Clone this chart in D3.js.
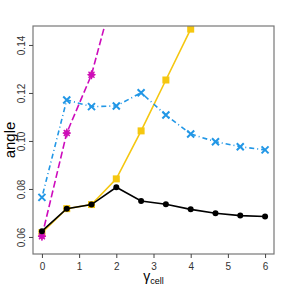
<!DOCTYPE html>
<html><head><meta charset="utf-8">
<script src="https://cdn.jsdelivr.net/npm/d3@7"></script>
<style>body{margin:0;background:#fff}svg{display:block}</style>
</head><body>
<svg id="c" width="288" height="288"></svg>
<script>
const xs = [0, 0.667, 1.333, 2, 2.667, 3.333, 4, 4.667, 5.333, 6];
const blackVals = [0.0624, 0.0718, 0.0735, 0.0807, 0.0750, 0.0736, 0.0715, 0.0699, 0.0689, 0.0685];
const yellowVals = [0.0618, 0.0718, 0.0735, 0.0842, 0.1042, 0.1254, 0.1466, 0.168, 0.19, 0.21];
const pinkVals = [0.0603, 0.1033, 0.1276, 0.166, 0.20, 0.23, 0.26, 0.29, 0.32, 0.35];
const blueVals = [0.0765, 0.1171, 0.1143, 0.1146, 0.1201, 0.1108, 0.1029, 0.0997, 0.0976, 0.0963];
const xTicks = [0, 1, 2, 3, 4, 5, 6];
const yTicks = [0.06, 0.08, 0.10, 0.12, 0.14];

const L = 33, R = 274, T = 26, B = 254;
const FONT = "Liberation Sans, Arial, sans-serif";
const svg = d3.select("#c");
const x = d3.scaleLinear().domain([-0.24, 6.24]).range([L, R]);
const y = d3.scaleLinear().domain([0.0529, 0.1479]).range([B, T]);

svg.append("defs").append("clipPath").attr("id", "clip")
  .append("rect").attr("x", L).attr("y", T).attr("width", R - L).attr("height", B - T);
const g = svg.append("g").attr("clip-path", "url(#clip)");

const line = d3.line().x(d => x(d[0])).y(d => y(d[1]));
function series(vals, color, dash) {
  const pts = xs.map((v, i) => [v, vals[i]]);
  g.append("path").datum(pts).attr("d", line).attr("fill", "none")
    .attr("stroke", color).attr("stroke-width", 1.6).attr("stroke-dasharray", dash || null);
  return pts;
}

// yellow
const yp = series(yellowVals, "#F5C710");
g.selectAll(".ys").data(yp).enter().append("rect")
  .attr("x", d => x(d[0]) - 3.5).attr("y", d => y(d[1]) - 3.5)
  .attr("width", 7).attr("height", 7).attr("fill", "#F5C710");

// pink
const pp = series(pinkVals, "#CD0BBC", "7,3");
const pm = g.selectAll(".ps").data(pp).enter().append("g")
  .attr("transform", d => `translate(${x(d[0])},${y(d[1])})`);
pm.append("path").attr("d", "M0,-4L4,0L0,4L-4,0Z").attr("fill", "#D63A9A");
pm.append("path").attr("d", "M-4,0L4,0M0,-4.5L0,4.5M-3,-3L3,3M-3,3L3,-3")
  .attr("stroke", "#CD0BBC").attr("stroke-width", 1.3);

// blue
const bp = series(blueVals, "#2297E6", "1,3,5,3");
g.selectAll(".bx").data(bp).enter().append("path")
  .attr("d", "M-3.5,-3.5L3.5,3.5M-3.5,3.5L3.5,-3.5")
  .attr("transform", d => `translate(${x(d[0])},${y(d[1])})`)
  .attr("stroke", "#2297E6").attr("stroke-width", 2).attr("fill", "none");

// black
const kp = series(blackVals, "#000000");
g.selectAll(".kd").data(kp).enter().append("circle")
  .attr("cx", d => x(d[0])).attr("cy", d => y(d[1])).attr("r", 3).attr("fill", "#000");

// box
svg.append("rect").attr("x", L).attr("y", T).attr("width", R - L).attr("height", B - T)
  .attr("fill", "none").attr("stroke", "#777").attr("stroke-width", 1.2);

// x axis
const xa = svg.append("g").attr("transform", `translate(0,${B})`)
  .call(d3.axisBottom(x).tickValues(xTicks).tickSize(4).tickFormat(d3.format("d")));
xa.select(".domain").remove();
xa.selectAll("line").attr("stroke", "#444");
xa.selectAll("text").attr("font-family", FONT).attr("font-size", 10).attr("fill", "#333").attr("dy", "0.9em");

// y axis
const ya = svg.append("g").attr("transform", `translate(${L},0)`)
  .call(d3.axisLeft(y).tickValues(yTicks).tickSize(4).tickFormat(d3.format(".2f")));
ya.select(".domain").remove();
ya.selectAll("line").attr("stroke", "#444");
ya.selectAll(".tick text").remove();
ya.selectAll(".tick").append("text")
  .attr("font-family", FONT).attr("font-size", 10).attr("fill", "#333")
  .attr("text-anchor", "middle")
  .attr("transform", "translate(-8,0) rotate(-90)")
  .text(d => d3.format(".2f")(d));

// labels
svg.append("text").attr("transform", `translate(15,${(T + B) / 2}) rotate(-90)`)
  .attr("text-anchor", "middle").attr("font-family", FONT)
  .attr("font-size", 15).attr("fill", "#000").text("angle");
const xl = svg.append("text").attr("x", (L + R) / 2).attr("y", 281)
  .attr("text-anchor", "middle").attr("font-family", FONT)
  .attr("font-size", 14).attr("fill", "#000");
xl.append("tspan").text("γ");
xl.append("tspan").attr("font-size", 9).attr("dy", 3).text("cell");
</script>
</body></html>
